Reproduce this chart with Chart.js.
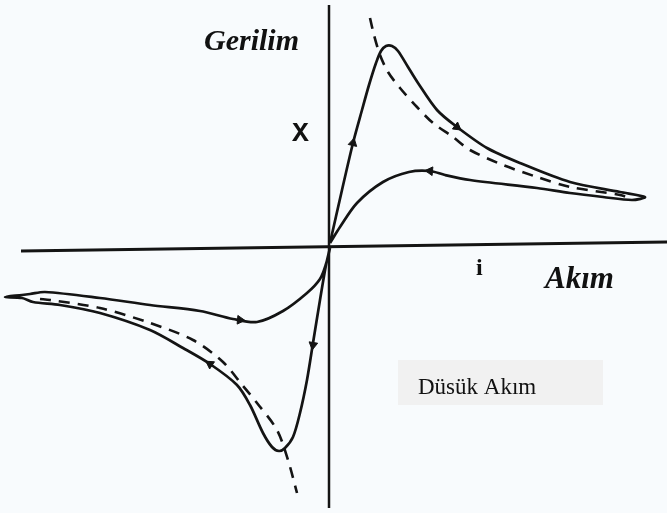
<!DOCTYPE html>
<html>
<head>
<meta charset="utf-8">
<script src="https://cdn.jsdelivr.net/npm/chart.js@4/dist/chart.umd.min.js"></script>
<style>
  body { margin: 0; background: #f8fbfd; }
  canvas { display: block; }
</style>
</head>
<body>
<canvas id="myChart" width="667" height="513"></canvas>
<script>
// current (I) / voltage (V) pairs, origin where the axes cross
// positive loop: origin -> peak -> tip -> back to origin
const posLoopI = [1, 13, 24, 33, 40, 47, 52, 57, 63, 69, 79, 89, 108, 128, 158, 191, 241, 291, 316, 303, 274, 241, 208, 141, 116, 101, 80, 54, 28, 11, 1];
const posLoopV = [3, 56, 103, 136, 161, 183, 195, 200, 200, 195, 179, 163, 136, 119, 98, 83, 64, 54, 49, 46, 49, 53, 58, 66, 71, 75, 74, 64, 43, 19, 3];
// negative loop: origin -> valley -> tip -> back to origin
const negLoopI = [1, -3, -9, -16, -22, -29, -36, -44, -50, -57, -66, -79, -92, -119, -146, -179, -229, -269, -296, -307, -324, -307, -299, -284, -229, -179, -129, -96, -72, -46, -22, -9, -3, 1];
const negLoopV = [-2, -19, -54, -97, -134, -167, -191, -202, -205, -201, -187, -159, -139, -118, -102, -84, -67, -59, -56, -52, -51, -49, -48, -46, -52, -59, -65, -73, -76, -65, -47, -33, -18, -2];
// dashed reference curves
const posDashI = [41, 45, 51, 59, 71, 88, 104, 124, 141, 174, 208, 241, 291, 303];
const posDashV = [228, 211, 191, 174, 158, 139, 123, 109, 96, 81, 69, 59, 51, 47];
const negDashI = [-289, -279, -229, -179, -136, -106, -86, -72, -52, -41, -32];
const negDashV = [-53, -54, -62, -77, -94, -116, -140, -157, -184, -214, -247];
// direction arrows along the loops
const arrowI = [24, 128, 101, -89, -119, -16];
const arrowV = [103, 119, 75, -74, -118, -99];
const arrowAngle = [13, 127, 275, 95, 304, 189];
// axes
const axisXI = [-308, 338];
const axisXV = [-5, 4];
const axisYI = [0, 0];
const axisYV = [241, -262];

function pts(xs, ys) {
  return xs.map((x, i) => ({ x: x, y: ys[i] }));
}

const ink = "#141414";

const bgPlugin = {
  id: "bg",
  beforeDraw(chart) {
    const c = chart.ctx;
    c.save();
    c.fillStyle = "#f8fbfd";
    c.fillRect(0, 0, chart.width, chart.height);
    c.restore();
  },
};

const labelsPlugin = {
  id: "labels",
  afterDraw(chart) {
    const c = chart.ctx;
    c.save();
    c.fillStyle = "#111";
    c.textBaseline = "middle";
    c.textAlign = "left";
    c.font = "italic bold 30px 'Liberation Serif'";
    c.fillText("Gerilim", 204, 42);
    c.font = "italic bold 31px 'Liberation Serif'";
    c.fillText("Akım", 545, 280);
    // hand lettered axis symbols
    c.font = "bold 28px 'Liberation Mono'";
    c.fillText("X", 292, 134);
    c.font = "bold 24px 'Liberation Serif'";
    c.fillText("i", 476, 269);
    // note box
    c.fillStyle = "#f1f1f1";
    c.fillRect(398, 360, 205, 45);
    c.fillStyle = "#111";
    c.font = "23px 'Liberation Serif'";
    c.textBaseline = "alphabetic";
    c.fillText("Düsük Akım", 418, 394);
    c.restore();
  },
};

const ctx = document.getElementById("myChart").getContext("2d");
const myChart = new Chart(ctx, {
  type: "scatter",
  data: {
    datasets: [
      { data: pts(axisXI, axisXV), showLine: true, borderColor: ink, borderWidth: 3, pointRadius: 0, tension: 0 },
      { data: pts(axisYI, axisYV), showLine: true, borderColor: ink, borderWidth: 2.5, pointRadius: 0, tension: 0 },
      { data: pts(posLoopI, posLoopV), showLine: true, borderColor: ink, borderWidth: 2.7, pointRadius: 0, tension: 0.3 },
      { data: pts(negLoopI, negLoopV), showLine: true, borderColor: ink, borderWidth: 2.7, pointRadius: 0, tension: 0.3 },
      { data: pts(posDashI, posDashV), showLine: true, borderColor: ink, borderWidth: 2.6, borderDash: [11, 8], pointRadius: 0, tension: 0.3 },
      { data: pts(negDashI, negDashV), showLine: true, borderColor: ink, borderWidth: 2.6, borderDash: [11, 8], pointRadius: 0, tension: 0.3 },
      {
        data: pts(arrowI, arrowV),
        showLine: false,
        pointStyle: "triangle",
        rotation: arrowAngle,
        pointRadius: 5,
        backgroundColor: ink,
        borderColor: ink,
        borderWidth: 1,
      },
    ],
  },
  options: {
    responsive: false,
    animation: false,
    layout: { padding: 0, autoPadding: false },
    plugins: { legend: { display: false }, tooltip: { enabled: false } },
    scales: {
      x: { type: "linear", min: -329, max: 338, display: false },
      y: { type: "linear", min: -267, max: 246, display: false },
    },
  },
  plugins: [bgPlugin, labelsPlugin],
});
</script>
</body>
</html>
